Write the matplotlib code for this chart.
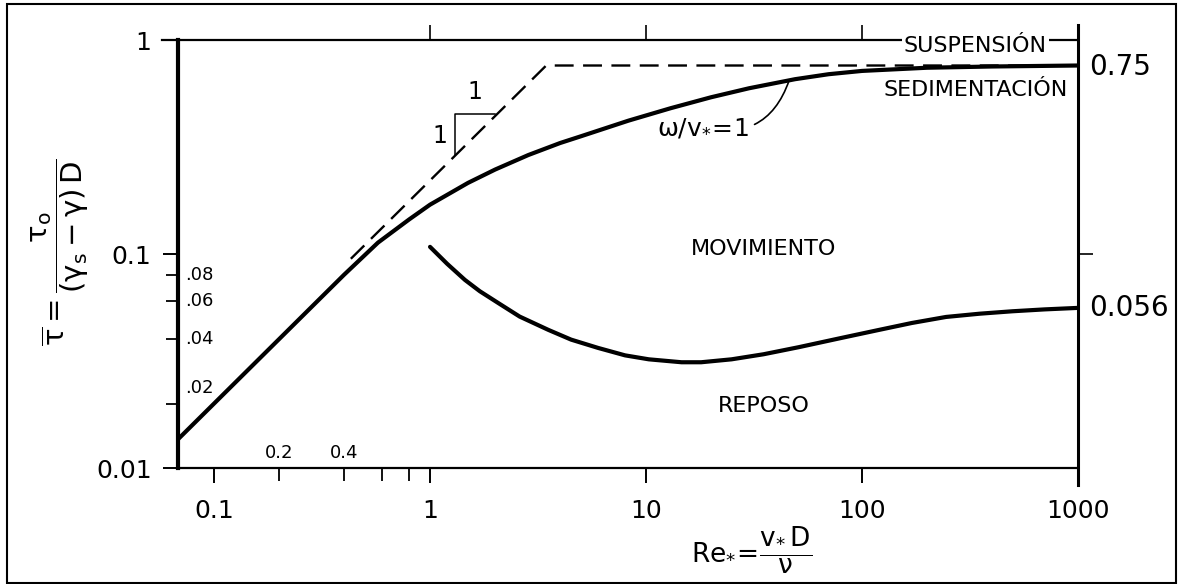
import matplotlib
matplotlib.use("Agg")
import matplotlib.pyplot as plt
from matplotlib.patches import Rectangle
from matplotlib.transforms import blended_transform_factory

plt.rcParams['font.family'] = ['DejaVu Sans']
plt.rcParams['mathtext.fontset'] = 'dejavusans'
plt.rcParams['mathtext.default'] = 'regular'

# Curva de sedimentación  w/v* = 1
re_sed = [0.068, 0.2, 0.4, 0.574, 0.8, 1.0, 1.5, 2.0, 2.85, 4.0, 5.0, 8.3, 13, 20, 30,
          49, 70, 100, 200, 400, 1000]
tau_sed = [0.0136, 0.040, 0.080, 0.113, 0.145, 0.17, 0.215, 0.248, 0.29, 0.33, 0.355,
           0.42, 0.48, 0.54, 0.595, 0.656, 0.692, 0.717, 0.742, 0.752, 0.76]

# Curva de inicio de movimiento (Shields)
re_mov = [1.0, 1.2, 1.45, 1.7, 2.07, 2.6, 3.53, 4.5, 6.0, 8.0, 10.3, 14.6, 18, 24.9, 35,
          51, 80, 120, 170, 245, 350, 497, 700, 1000]
tau_mov = [0.108, 0.090, 0.0757, 0.067, 0.059, 0.051, 0.0442, 0.0398, 0.0364, 0.0336,
           0.0322, 0.0312, 0.0312, 0.0322, 0.034, 0.0367, 0.0405, 0.0442, 0.0476,
           0.0508, 0.0526, 0.0540, 0.0551, 0.056]

# Asintota discontinua
re_asin = [0.43, 3.45, 1000]
tau_asin = [0.095, 0.76, 0.76]

# triangulo de pendiente 1:1
tri_re = [1.31, 1.31, 2.0]
tri_tau = [0.29, 0.45, 0.45]

x_major = [0.1, 1, 10, 100, 1000]
x_major_labels = ['0.1', '1', '10', '100', '1000']
x_minor = [0.2, 0.4, 0.6, 0.8]
y_major = [0.01, 0.1, 1]
y_major_labels = ['0.01', '0.1', '1']
y_minor = [0.02, 0.04, 0.06, 0.08]

W, H = 1180, 584
fig = plt.figure(figsize=(W / 100, H / 100), dpi=100)
ax = fig.add_axes([178 / W, 1 - 468 / H, 900 / W, 428 / H])
ax.set_xscale('log')
ax.set_yscale('log')
ax.set_xlim(0.0681, 1000)
ax.set_ylim(0.01, 1)

ax.plot(re_sed, tau_sed, color='black', lw=3, solid_capstyle='round', solid_joinstyle='round')
ax.plot(re_mov, tau_mov, color='black', lw=3, solid_capstyle='round', solid_joinstyle='round')
ax.plot(re_asin, tau_asin, color='black', lw=1.7, dashes=(8, 4))
ax.plot(tri_re, tri_tau, color='black', lw=1.1)
ax.text(1.62, 0.50, '1', fontsize=17, ha='center', va='bottom')
ax.text(1.2, 0.355, '1', fontsize=17, ha='right', va='center')

# ticks
ax.set_xticks(x_major)
ax.set_xticklabels(x_major_labels)
ax.set_xticks(x_minor, minor=True)
ax.set_xticklabels([], minor=True)
ax.set_yticks(y_major)
ax.set_yticklabels(y_major_labels)
ax.set_yticks(y_minor, minor=True)
ax.set_yticklabels([], minor=True)
ax.tick_params(which='major', length=11, width=1.4, labelsize=18, pad=8, direction='out')
ax.tick_params(axis='x', which='major', pad=11)
ax.tick_params(which='minor', length=9, width=1.3, direction='out')

for s in ['right', 'top']:
    ax.spines[s].set_visible(False)
ax.spines['left'].set_linewidth(3)
ax.spines['bottom'].set_linewidth(1.6)

# extensiones de los bordes
ax.plot([-0.018, 1.0], [1, 1], transform=ax.transAxes, color='black', lw=1.6, clip_on=False)
ax.plot([1, 1], [-0.04, 1.035], transform=ax.transAxes, color='black', lw=2.2, clip_on=False)

top = ax.secondary_xaxis('top')
top.set_xticks([1, 10, 100])
top.set_xticklabels([])
top.set_xticks([], minor=True)
top.tick_params(length=11, width=1.2)
top.spines['top'].set_visible(False)

right = ax.secondary_yaxis('right')
right.set_yticks([0.1])
right.set_yticklabels([])
right.set_yticks([], minor=True)
right.tick_params(length=11, width=1.2)
right.spines['right'].set_visible(False)

# etiquetas menores
ty = blended_transform_factory(ax.transAxes, ax.transData)
for v, lab in zip(y_minor, ['.02', '.04', '.06', '.08']):
    yy = v * 1.18 if v == 0.02 else v
    ax.text(0.008, yy, lab, transform=ty, fontsize=13, ha='left', va='center')
for v, lab in zip([0.2, 0.4], ['0.2', '0.4']):
    ax.text(v, 0.0117, lab, fontsize=13, ha='center', va='center')

ax.text(1.012, 0.75, '0.75', transform=ty, fontsize=20, ha='left', va='center')
ax.text(1.012, 0.056, '0.056', transform=ty, fontsize=20, ha='left', va='center')

# regiones
ax.text(35, 0.105, 'MOVIMIENTO', fontsize=16, ha='center', va='center')
ax.text(35, 0.0195, 'REPOSO', fontsize=16, ha='center', va='center')
ax.text(0.886, 0.986, 'SUSPENSIÓN', transform=ax.transAxes, fontsize=16, ha='center', va='center',
        bbox=dict(facecolor='white', edgecolor='none', pad=1.5))
ax.text(0.886, 0.884, 'SEDIMENTACIÓN', transform=ax.transAxes, fontsize=16, ha='center', va='center')

ax.annotate(r'$\omega/v_{*}\!=\!1$', xy=(46, 0.648), xytext=(18.4, 0.39),
            fontsize=18, ha='center', va='center',
            arrowprops=dict(arrowstyle='-', color='black', lw=1.2,
                            connectionstyle='arc3,rad=0.45', shrinkA=2, shrinkB=0))

fig.text(60 / W, 1 - 252 / H, r'$\overline{\tau}=\dfrac{\tau_{o}}{(\gamma_{s}-\gamma)\,D}$',
         rotation=90, fontsize=21, ha='center', va='center')
fig.text(752 / W, 1 - 550 / H, r'$Re_{*}\!=\!\dfrac{v_{*}\,D}{\nu}$',
         fontsize=19, ha='center', va='center')

fig.patches.append(Rectangle((7 / W, 1 / H), 1169 / W, 579 / H, transform=fig.transFigure,
                             fill=False, edgecolor='black', lw=1.5))

fig.savefig('out.png', dpi=100)
